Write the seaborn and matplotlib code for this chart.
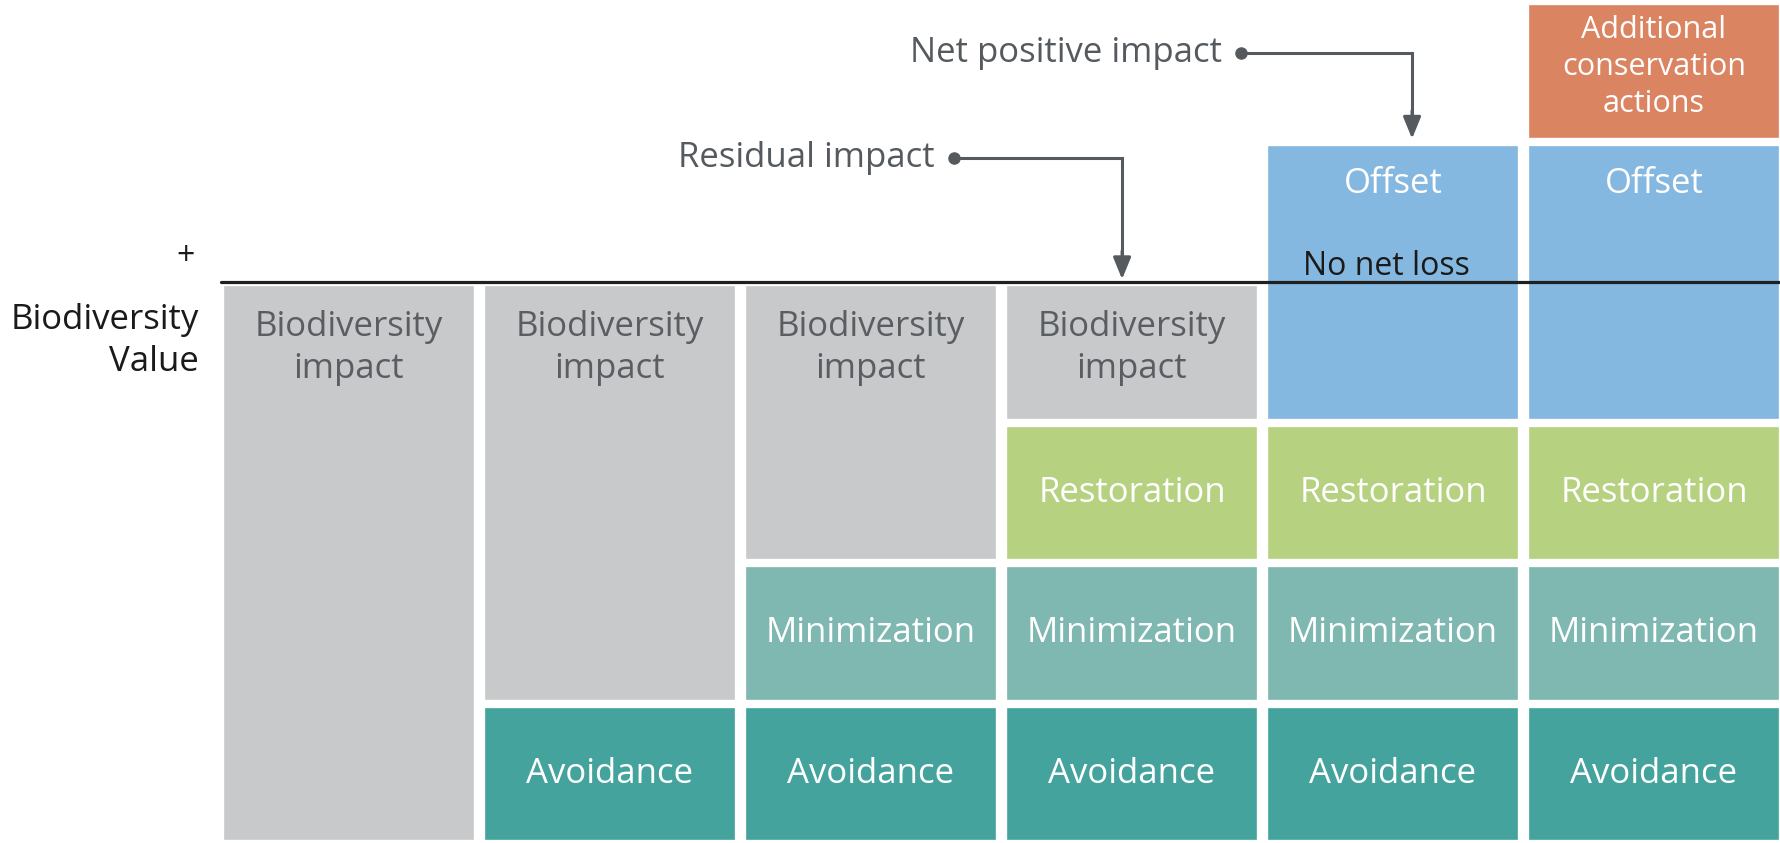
import matplotlib
matplotlib.use("Agg")
from matplotlib import pyplot as plt
import numpy as np
import pandas as pd
import seaborn as sns

# mitigation hierarchy, one column per stage, values in "blocks"
stages = ["1", "2", "3", "4", "5", "6"]
avoidance = [0, 1, 1, 1, 1, 1]
minimization = [0, 0, 1, 1, 1, 1]
restoration = [0, 0, 0, 1, 1, 1]
impact = [4, 3, 2, 1, 0, 0]
offset = [0, 0, 0, 0, 2, 2]
additional = [0, 0, 0, 0, 0, 1]

layers = ["Avoidance", "Minimization", "Restoration", "Biodiversity\nimpact",
          "Offset", "Additional\nconservation\nactions"]
layer_values = [avoidance, minimization, restoration, impact, offset, additional]
layer_colors = ["#44a39c", "#7fb8b1", "#b6d180", "#c8c9cb", "#84b8e0", "#db8462"]
baseline = 4

sns.set_theme(style="white")
plt.rcParams['font.family'] = ['Open Sans', 'DejaVu Sans']

rows = []
for name, vals in zip(layers, layer_values):
    rows.append(pd.DataFrame({'stage': stages, 'layer': name, 'value': vals}))
df = pd.concat(rows, ignore_index=True)
df['top'] = df.groupby('stage')['value'].cumsum()
df['bottom'] = df['top'] - df['value']
df = df[df['value'] > 0]

fig = plt.figure(figsize=(17.81, 8.43), dpi=100)
ax = fig.add_axes([0, 0, 1, 1])

# draw cumulative bars from the top layer down, white edges give the gaps
for name, color in reversed(list(zip(layers, layer_colors))):
    sub = df[df['layer'] == name]
    if sub.empty:
        continue
    sns.barplot(data=sub, x='stage', y='top', order=stages, color=color,
                saturation=1, width=0.985, edgecolor='white', linewidth=6,
                errorbar=None, ax=ax)

pos = {s: i for i, s in enumerate(stages)}
for _, r in df.iterrows():
    x = pos[r['stage']]
    fs, ls = 25, 1.33
    if r['layer'].startswith('Biodiversity'):
        y, col = r['top'] - 0.47, '#5a5e62'
    elif r['layer'] == 'Offset':
        y, col = r['top'] - 0.30, 'white'
    elif r['layer'].startswith('Additional'):
        y, col = (r['top'] + r['bottom']) / 2 + 0.03, 'white'
        fs, ls = 22, 1.3
    else:
        y, col = (r['top'] + r['bottom']) / 2, 'white'
    ax.text(x, y, r['layer'], ha='center', va='center', color=col,
            fontsize=fs, linespacing=ls)

# baseline
ax.plot([-0.49, 6], [baseline, baseline], color='#1f1f1f', lw=2.3, zorder=5)
ax.text(-0.59, 4.185, '+', ha='right', va='center', fontsize=23, color='#1a1a1a')
ax.text(-0.575, 3.58, 'Biodiversity\nValue', ha='right', va='center',
        multialignment='right', fontsize=25, color='#1a1a1a', linespacing=1.33)
ax.text(3.973, 4.11, 'No net loss', ha='center', va='center', fontsize=23,
        color='#1a1a1a', zorder=6)

# callouts
grey = '#555a5e'
callouts = [
    ('Residual impact', 2.318, 4.883, 2.962, 4.02),
    ('Net positive impact', 3.418, 5.63, 4.073, 5.02),
]
for label, x0, y0, x1, y1 in callouts:
    ax.plot([x0, x1, x1], [y0, y0, y1 + 0.12], color=grey, lw=2.2,
            solid_joinstyle='miter', zorder=6)
    ax.plot(x0, y0, 'o', color=grey, ms=8, zorder=7)
    ax.annotate('', xy=(x1, y1), xytext=(x1, y1 + 0.2),
                arrowprops=dict(arrowstyle='-|>,head_length=1.1,head_width=0.45',
                                color=grey, lw=2.2, shrinkA=0, shrinkB=0),
                zorder=7)
    ax.text(x0 - 0.075, y0, label, ha='right', va='center', fontsize=25,
            color=grey)

ax.set_xlim(-349 / 261, (1781 - 349) / 261)
ax.set_ylim(-(843 - 844) / 140.5, -(843 - 844) / 140.5 + 843 / 140.5)
ax.axis('off')

fig.savefig('out.png', dpi=100, facecolor='white')
